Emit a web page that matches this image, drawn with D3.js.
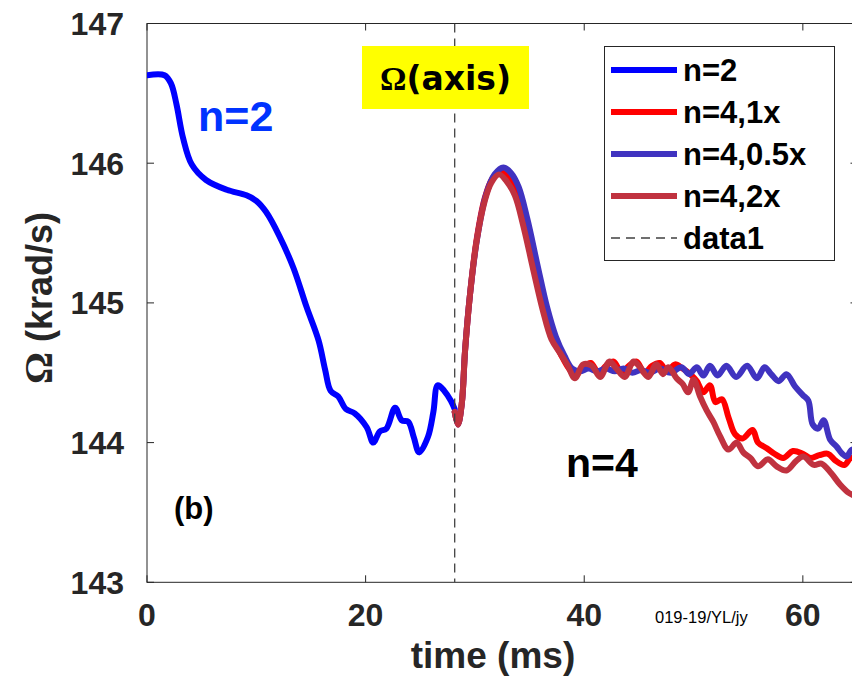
<!DOCTYPE html>
<html>
<head>
<meta charset="utf-8">
<script src="https://cdn.jsdelivr.net/npm/d3@7/dist/d3.min.js"></script>
<style>
  html, body { margin: 0; padding: 0; background: #fff; }
  svg { display: block; }
  text { font-family: "Liberation Sans", Arial, sans-serif; font-weight: bold; }
</style>
</head>
<body>
<svg id="chart" width="852" height="685"></svg>
<script>
// Toroidal rotation on axis, Omega (krad/s) versus time (ms)
const xTicks = [0, 20, 40, 60];
const yTicks = [143, 144, 145, 146, 147];
const xDomain = [0, 65];
const yDomain = [143, 147];
const switchTime = 28.15; // vertical "data1" marker

const seriesNames = ["n=2", "n=4,1x", "n=4,0.5x", "n=4,2x"];
const seriesColors = ["#0000ff", "#ff0000", "#4033c0", "#c0323f"];

// [time (ms), Omega (krad/s)]
const n2 = [[0,146.63],[1.6,146.63],[2.2,146.57],[2.7,146.42],[3.3,146.18],[4.1,145.99],[5.4,145.88],[7.3,145.81],[9.1,145.77],[10.0,145.73],[10.9,145.65],[12.1,145.48],[13.4,145.25],[14.6,144.97],[15.7,144.73],[16.3,144.52],[16.8,144.37],[17.5,144.33],[18.2,144.24],[19.0,144.21],[20.1,144.11],[20.7,144.00],[21.3,144.08],[21.9,144.10],[22.7,144.25],[23.3,144.16],[23.9,144.15],[24.4,144.04],[24.9,143.93],[25.7,144.04],[26.2,144.22],[26.6,144.41],[27.2,144.37],[27.8,144.30],[28.15,144.24]];

const n4x1 = [[28.15,144.22],[28.45,144.13],[28.8,144.28],[29.1,144.66],[29.55,145.06],[30.15,145.45],[30.9,145.75],[31.6,145.89],[32.3,145.94],[33.0,145.90],[33.7,145.80],[34.5,145.58],[35.4,145.27],[36.3,144.96],[37.0,144.76],[37.8,144.64],[38.6,144.53],[39.2,144.48],[39.9,144.54],[40.6,144.57],[41.3,144.50],[42.0,144.55],[42.7,144.58],[43.4,144.50],[44.1,144.55],[44.8,144.58],[45.5,144.50],[46.2,144.55],[46.9,144.57],[47.6,144.51],[48.3,144.56],[49.0,144.53],[49.7,144.49],[50.3,144.44],[50.9,144.36],[51.5,144.41],[52.0,144.29],[52.6,144.31],[53.2,144.18],[53.8,144.06],[54.5,144.03],[55.4,144.09],[55.9,144.00],[56.7,143.96],[57.4,143.92],[58.2,143.89],[59.1,143.94],[60.0,143.92],[60.7,143.89],[61.5,143.91],[62.3,143.92],[63.0,143.87],[63.8,143.84],[64.4,143.89],[65,143.87]];

const n4x05 = [[28.15,144.22],[28.45,144.13],[28.8,144.28],[29.1,144.66],[29.55,145.06],[30.2,145.46],[31.0,145.77],[31.8,145.92],[32.6,145.97],[33.3,145.93],[34.0,145.83],[34.8,145.60],[35.7,145.28],[36.6,144.97],[37.4,144.76],[38.2,144.62],[38.9,144.53],[39.6,144.51],[40.4,144.53],[41.2,144.51],[42.0,144.53],[42.8,144.51],[43.6,144.53],[44.4,144.50],[45.2,144.52],[46.0,144.50],[46.9,144.53],[47.9,144.50],[48.9,144.54],[49.6,144.49],[50.3,144.54],[50.9,144.48],[51.5,144.55],[52.2,144.48],[53.0,144.55],[53.9,144.47],[54.9,144.55],[55.8,144.46],[56.5,144.54],[57.1,144.49],[57.8,144.44],[58.5,144.49],[59.3,144.40],[60.0,144.34],[60.5,144.30],[60.9,144.13],[61.4,144.10],[61.9,144.16],[62.5,144.02],[63.1,143.97],[63.6,143.92],[64.0,143.90],[64.5,143.95],[65,143.93]];

const n4x2 = [[28.15,144.22],[28.45,144.13],[28.8,144.28],[29.1,144.66],[29.55,145.06],[30.15,145.44],[30.9,145.73],[31.5,145.86],[32.2,145.92],[32.9,145.87],[33.65,145.77],[34.4,145.56],[35.3,145.25],[36.2,144.95],[37.0,144.74],[37.8,144.64],[38.5,144.55],[39.15,144.46],[39.9,144.56],[40.7,144.55],[41.45,144.47],[42.3,144.58],[42.95,144.53],[43.7,144.47],[44.5,144.58],[45.1,144.54],[45.85,144.47],[46.6,144.56],[47.2,144.49],[47.7,144.54],[48.45,144.46],[49.0,144.42],[49.5,144.36],[50.0,144.45],[50.6,144.33],[51.2,144.23],[51.8,144.15],[52.4,144.05],[53.2,143.95],[53.95,144.00],[54.55,143.93],[55.2,143.89],[55.9,143.83],[56.8,143.88],[57.6,143.83],[58.5,143.80],[59.4,143.87],[60.05,143.90],[61.0,143.84],[61.7,143.85],[62.6,143.78],[63.4,143.70],[64.2,143.64],[65,143.61]];

const seriesData = [n2, n4x1, n4x05, n4x2];

const axisColor = "#262626";
const plotLeft = 147, plotRight = 857.5, plotTop = 23.5, plotBottom = 582.3;

const svg = d3.select("#chart");
const x = d3.scaleLinear().domain(xDomain).range([plotLeft, plotRight]);
const y = d3.scaleLinear().domain(yDomain).range([plotBottom, plotTop]);

svg.append("defs").append("clipPath").attr("id", "plotClip")
  .append("rect").attr("x", plotLeft).attr("y", plotTop)
  .attr("width", plotRight - plotLeft).attr("height", plotBottom - plotTop);

// axes box with inward ticks on all four sides
const box = svg.append("g").attr("stroke", axisColor).attr("stroke-width", 1).attr("fill", "none");
box.append("rect").attr("x", plotLeft).attr("y", plotTop)
  .attr("width", plotRight - plotLeft).attr("height", plotBottom - plotTop);
const tickLen = 7;
xTicks.forEach(t => {
  box.append("line").attr("x1", x(t)).attr("x2", x(t)).attr("y1", plotBottom).attr("y2", plotBottom - tickLen);
  box.append("line").attr("x1", x(t)).attr("x2", x(t)).attr("y1", plotTop).attr("y2", plotTop + tickLen);
});
yTicks.forEach(v => {
  box.append("line").attr("x1", plotLeft).attr("x2", plotLeft + tickLen).attr("y1", y(v)).attr("y2", y(v));
  box.append("line").attr("x1", plotRight).attr("x2", plotRight - tickLen).attr("y1", y(v)).attr("y2", y(v));
});

// tick labels
svg.append("g").selectAll("text").data(xTicks).join("text")
  .attr("x", d => x(d)).attr("y", 626)
  .attr("text-anchor", "middle").attr("font-size", 32).attr("fill", axisColor)
  .text(d => d);
svg.append("g").selectAll("text").data(yTicks).join("text")
  .attr("x", 124).attr("y", d => y(d) + 11.5)
  .attr("text-anchor", "end").attr("font-size", 32).attr("fill", axisColor)
  .text(d => d);

// axis titles
svg.append("text").attr("x", 493).attr("y", 668).attr("text-anchor", "middle")
  .attr("font-size", 37).attr("fill", axisColor).text("time (ms)");
const yl = svg.append("text").attr("transform", "translate(52,298) rotate(-90)")
  .attr("text-anchor", "middle").attr("font-size", 36).attr("fill", axisColor);
yl.append("tspan").style("font-family", "'Liberation Serif', serif").style("font-size", "40px").text("Ω");
yl.append("tspan").text(" (krad/s)");

// curves
const line = d3.line().x(d => x(d[0])).y(d => y(d[1])).curve(d3.curveCatmullRom.alpha(0.5));
const plot = svg.append("g").attr("clip-path", "url(#plotClip)");
seriesData.forEach((s, i) => {
  plot.append("path").datum(s).attr("d", line)
    .attr("fill", "none").attr("stroke", seriesColors[i])
    .attr("stroke-width", 6).attr("stroke-linejoin", "round").attr("stroke-linecap", "round");
});

// vertical dashed marker
plot.append("line").attr("x1", x(switchTime)).attr("x2", x(switchTime))
  .attr("y1", y(yDomain[1])).attr("y2", y(yDomain[0]))
  .attr("stroke", "#404040").attr("stroke-width", 1.3).attr("stroke-dasharray", "9,6");

// annotations
svg.append("rect").attr("x", 362).attr("y", 46).attr("width", 167).attr("height", 63).attr("fill", "#ffff00");
const ax = svg.append("text").attr("x", 445.5).attr("y", 90).attr("text-anchor", "middle")
  .attr("font-size", 33).attr("fill", "#000");
ax.append("tspan").style("font-family", "'Liberation Serif', serif").text("Ω");
ax.append("tspan").style("font-family", "'DejaVu Sans', sans-serif").text("(axis)");

svg.append("text").attr("x", 198).attr("y", 131).attr("font-size", 43).attr("fill", "#0033ff").text("n=2");
svg.append("text").attr("x", 566).attr("y", 477).attr("font-size", 41).attr("fill", "#000").text("n=4");
svg.append("text").attr("x", 174).attr("y", 519).attr("font-size", 31).attr("fill", "#000").text("(b)");
svg.append("text").attr("x", 655).attr("y", 623).attr("font-size", 16.5)
  .style("font-weight", "normal").style("font-family", "'Liberation Sans Narrow', 'Liberation Sans', sans-serif")
  .attr("fill", "#000").text("019-19/YL/jy");

// legend
const lg = svg.append("g");
lg.append("rect").attr("x", 604.5).attr("y", 46.5).attr("width", 230).attr("height", 214)
  .attr("fill", "#fff").attr("stroke", axisColor).attr("stroke-width", 1);
const legendItems = seriesNames.map((n, i) => ({ name: n, color: seriesColors[i], dash: null }))
  .concat([{ name: "data1", color: "#404040", dash: "9,6" }]);
legendItems.forEach((d, i) => {
  const ly = 70 + i * 42;
  lg.append("line").attr("x1", 611).attr("x2", 677).attr("y1", ly).attr("y2", ly)
    .attr("stroke", d.color).attr("stroke-width", d.dash ? 1.3 : 6)
    .attr("stroke-dasharray", d.dash);
  lg.append("text").attr("x", 683).attr("y", ly + 11).attr("font-size", 31)
    .attr("fill", "#000").text(d.name);
});
</script>
</body>
</html>
